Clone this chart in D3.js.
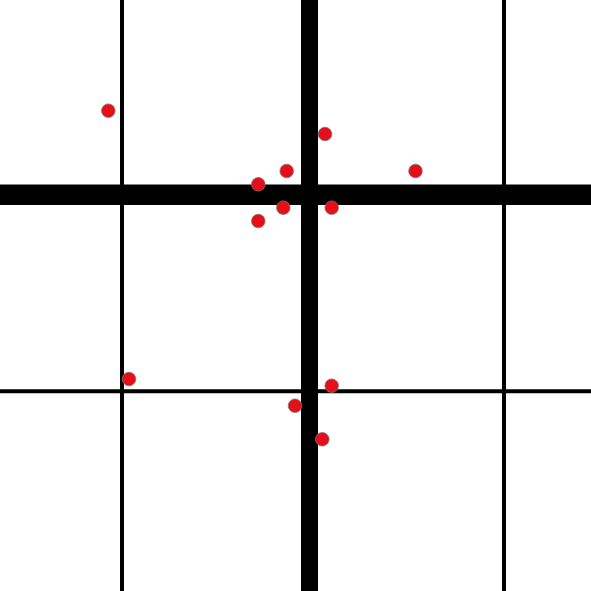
<!DOCTYPE html>
<html><head><meta charset="utf-8">
<script src="https://cdn.jsdelivr.net/npm/d3@7"></script>
<style>html,body{margin:0;padding:0;background:#fff;}svg{display:block;}</style>
</head><body>
<script>
const vLinesX = [122, 309.5, 504];
const vLinesW = [4, 17, 4];
const hLinesY = [391.3, 194.8];
const hLinesW = [4, 20.5];
const pointsX = [108.3, 325, 286.7, 415.5, 258.3, 283.3, 331.7, 258.3, 129, 331.7, 295, 322.3];
const pointsY = [110.7, 134, 171, 171, 184.3, 207.7, 207.7, 221, 379, 385.7, 405.7, 439.3];

const W = 591, H = 591;
const x = d3.scaleLinear().domain([0, 591]).range([0, W]);
const y = d3.scaleLinear().domain([0, 591]).range([0, H]);
const svg = d3.select("body").append("svg").attr("width", W).attr("height", H);
svg.append("rect").attr("width", W).attr("height", H).attr("fill", "#fff");

svg.selectAll("line.v").data(vLinesX).join("line").attr("class", "v")
  .attr("x1", d => x(d)).attr("x2", d => x(d)).attr("y1", 0).attr("y2", H)
  .attr("stroke", "#000").attr("stroke-width", (d, i) => vLinesW[i]);
svg.selectAll("line.h").data(hLinesY).join("line").attr("class", "h")
  .attr("y1", d => y(d)).attr("y2", d => y(d)).attr("x1", 0).attr("x2", W)
  .attr("stroke", "#000").attr("stroke-width", (d, i) => hLinesW[i]);

svg.selectAll("circle").data(pointsX.map((v, i) => [v, pointsY[i]])).join("circle")
  .attr("cx", d => x(d[0])).attr("cy", d => y(d[1])).attr("r", 6.8)
  .attr("fill", "#e50e19").attr("stroke", "#777").attr("stroke-width", 0.8);
</script>
</body></html>
